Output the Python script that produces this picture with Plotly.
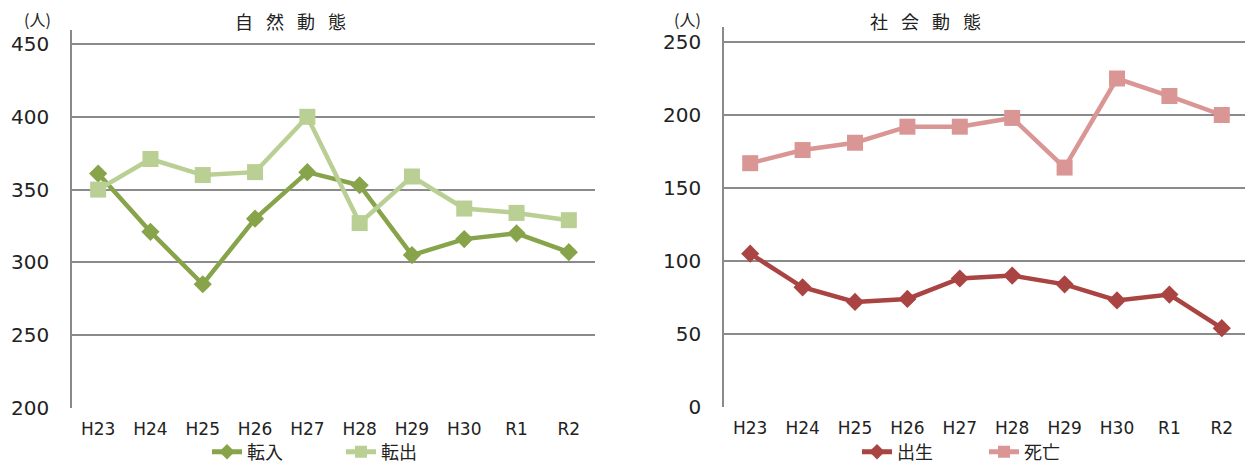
import plotly.graph_objects as go

years = ["H23", "H24", "H25", "H26", "H27", "H28", "H29", "H30", "R1", "R2"]

tennyu = [361, 321, 285, 330, 362, 353, 305, 316, 320, 307]
tenshutsu = [350, 371, 360, 362, 400, 327, 359, 337, 334, 329]

shusshou = [105, 82, 72, 74, 88, 90, 84, 73, 77, 54]
shibou = [167, 176, 181, 192, 192, 198, 164, 225, 213, 200]

left_ticks = [200, 250, 300, 350, 400, 450]
right_ticks = [0, 50, 100, 150, 200, 250]

CJK = "Noto Sans CJK JP"
NUM = "DejaVu Sans"
OFF = 8  # page body margin
W, H = 1253 - OFF, 465 - OFF


def px_x(p):
    return (p - OFF) / W


def px_y(p):
    return 1 - (p - OFF) / H


fig = go.Figure()

series = [
    ("転入", tennyu, "#87A44B", "diamond", 14, "x", "y", "legend", 253),
    ("転出", tenshutsu, "#B9CF93", "square", 16, "x", "y", "legend2", 387),
    ("出生", shusshou, "#A94442", "diamond", 14, "x2", "y2", "legend3", 903),
    ("死亡", shibou, "#D99695", "square", 16, "x2", "y2", "legend4", 1030),
]

legends = {}
for name, vals, col, sym, msz, xa, ya, lg, tx in series:
    fig.add_trace(go.Scatter(x=years, y=vals, name=name, mode="lines+markers",
                             line=dict(color=col, width=4.5),
                             marker=dict(symbol=sym, size=msz, color=col),
                             xaxis=xa, yaxis=ya, legend=lg))
    legends[lg] = dict(orientation="h", x=px_x(tx - 46), y=px_y(452),
                       xanchor="left", yanchor="middle",
                       font=dict(family=CJK, size=18, color="#222222"),
                       bgcolor="rgba(0,0,0,0)", itemsizing="constant")

grid = "#8A8A8A"
ytickfont = dict(family=NUM, size=20, color="#222222")
xtickfont = dict(family=NUM, size=17, color="#222222")

l_top, l_bot = 30, 408
r_top, r_bot = 27, 407
l_max = 200 + 250 * (l_bot - l_top) / (408 - 44)
r_max = 250 * (r_bot - r_top) / (407 - 42)

SP = "\u2002 "

fig.update_layout(
    width=W, height=H,
    margin=dict(l=0, r=0, t=0, b=0, autoexpand=False),
    paper_bgcolor="white", plot_bgcolor="white",
    font=dict(family=CJK, color="#222222"),
    xaxis=dict(domain=[px_x(72), px_x(595)], anchor="y", type="category",
               showgrid=False, showline=False, ticks="", tickfont=xtickfont,
               range=[-0.5, 9.5], automargin=False, ticklabelstandoff=9),
    yaxis=dict(domain=[px_y(l_bot), px_y(l_top)], anchor="x",
               range=[200, l_max], tickvals=left_ticks, showgrid=True,
               gridcolor=grid, gridwidth=1.5, showline=True, linecolor=grid,
               linewidth=1.5, ticks="", tickfont=ytickfont, zeroline=False,
               ticklabelstandoff=17, automargin=False),
    xaxis2=dict(domain=[px_x(724), px_x(1248)], anchor="y2", type="category",
                showgrid=False, showline=False, ticks="", tickfont=xtickfont,
                range=[-0.5, 9.5], automargin=False, ticklabelstandoff=9),
    yaxis2=dict(domain=[px_y(r_bot), px_y(r_top)], anchor="x2",
                range=[0, r_max], tickvals=right_ticks, showgrid=True,
                gridcolor=grid, gridwidth=1.5, showline=True, linecolor=grid,
                linewidth=1.5, ticks="", tickfont=ytickfont, zeroline=False,
                ticklabelstandoff=17, automargin=False),
    annotations=[
        dict(text=SP.join("自然動態"), x=px_x(290), y=px_y(21), xref="paper", yref="paper",
             xanchor="center", yanchor="middle", showarrow=False, borderpad=0,
             font=dict(family=CJK, size=18, color="#222222")),
        dict(text=SP.join("社会動態"), x=px_x(925), y=px_y(21), xref="paper", yref="paper",
             xanchor="center", yanchor="middle", showarrow=False, borderpad=0,
             font=dict(family=CJK, size=18, color="#222222")),
        dict(text="(人)", x=px_x(37), y=px_y(19), xref="paper", yref="paper",
             xanchor="center", yanchor="middle", showarrow=False, borderpad=0,
             font=dict(family=CJK, size=16, color="#222222")),
        dict(text="(人)", x=px_x(687), y=px_y(19), xref="paper", yref="paper",
             xanchor="center", yanchor="middle", showarrow=False, borderpad=0,
             font=dict(family=CJK, size=16, color="#222222")),
    ],
    showlegend=True,
    **legends,
)

fig.write_html("out.html")
